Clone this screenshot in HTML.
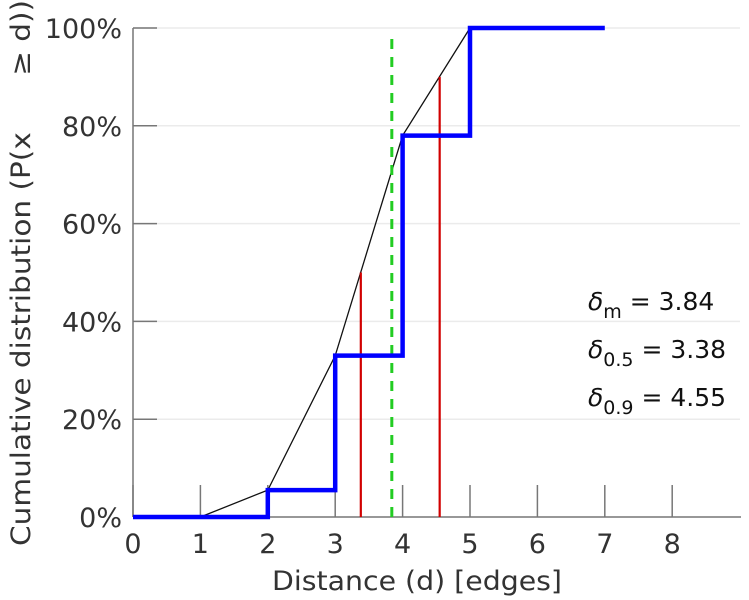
<!DOCTYPE html>
<html><head><meta charset="utf-8"><style>
body{margin:0;background:#fff}
svg{display:block;font-family:"DejaVu Sans","Liberation Sans",sans-serif}
</style></head><body>
<svg id="chart" width="749" height="600">
<g id="grid"></g>
<g id="axes"></g>
<g id="series"></g>
<text x="272" y="590" font-size="27" fill="#333" textLength="290" lengthAdjust="spacingAndGlyphs">Distance (d) [edges]</text>
<text transform="translate(30,546) rotate(-90)" font-size="27" fill="#333" textLength="546" lengthAdjust="spacingAndGlyphs" xml:space="preserve">Cumulative distribution (P(x      ≥ d))</text>
<g font-size="25" fill="#111">
<text x="588" y="310"><tspan font-style="italic">δ</tspan><tspan font-size="19" dy="8">m</tspan><tspan dy="-8"> = 3.84</tspan></text>
<text x="588" y="358"><tspan font-style="italic">δ</tspan><tspan font-size="19" dy="8">0.5</tspan><tspan dy="-8"> = 3.38</tspan></text>
<text x="588" y="406"><tspan font-style="italic">δ</tspan><tspan font-size="19" dy="8">0.9</tspan><tspan dy="-8"> = 4.55</tspan></text>
</g>
</svg>
<script>
const xTicks=[0,1,2,3,4,5,6,7,8];
const yTicks=[0,20,40,60,80,100];
const stepX=[0,1,2,3,4,5,6,7];
const stepY=[0,0,5.5,33,78,100,100,100];
const lineX=[1,2,3,4,5];
const lineY=[0,5.5,33,78,100];
const redX=[3.38,4.55];
const redY=[50,90];
const meanX=3.84;
const sx=v=>133+v*67.4;
const sy=v=>517-v*4.89;
const NS='http://www.w3.org/2000/svg';
function mk(parent,tag,attrs){const e=document.createElementNS(NS,tag);for(const k in attrs)e.setAttribute(k,attrs[k]);document.getElementById(parent).appendChild(e);return e;}
yTicks.forEach(t=>{
 if(t>0){const g=mk('grid','line',{x1:133,x2:740,y1:sy(t),y2:sy(t),stroke:'#ebebeb','stroke-width':1.5});
 
 }
 const tk=mk('axes','line',{x1:133,x2:157,y1:sy(t),y2:sy(t),stroke:'#777','stroke-width':1.5});
 
 
 const l=mk('axes','text',{x:122,y:sy(t)+10,'text-anchor':'end','font-size':27,fill:'#333'});l.textContent=t+'%';
 
 
});
xTicks.forEach(t=>{
 const tk=mk('axes','line',{x1:sx(t),x2:sx(t),y1:485,y2:517,stroke:'#777','stroke-width':1.5});
 
 
 const l=mk('axes','text',{x:sx(t),y:553,'text-anchor':'middle','font-size':27,fill:'#333'});l.textContent=t;
 
 
});
let a=mk('axes','line',{x1:133,x2:133,y1:sy(100),y2:517,stroke:'#777','stroke-width':1.5});


a=mk('axes','line',{x1:133,x2:741,y1:517,y2:517,stroke:'#777','stroke-width':1.5});


let lp=mk('series','polyline',{points:lineX.map((x,i)=>sx(x)+','+sy(lineY[i])).join(' '),fill:'none',stroke:'#111','stroke-width':1.3});


redX.forEach((x,i)=>{const r=mk('series','line',{x1:sx(x),x2:sx(x),y1:517,y2:sy(redY[i]),stroke:'#d10000','stroke-width':2.2});
 
 });
const g=mk('series','line',{x1:sx(meanX),x2:sx(meanX),y1:517,y2:33,stroke:'#22cc22','stroke-width':3,'stroke-dasharray':'10,8'});


let pts=[];
for(let i=0;i<stepX.length;i++){pts.push(sx(stepX[i])+','+sy(stepY[i]));if(i<stepX.length-1)pts.push(sx(stepX[i+1])+','+sy(stepY[i]));}
const b=mk('series','polyline',{points:pts.join(' '),fill:'none',stroke:'#0000ff','stroke-width':4.5,'stroke-linejoin':'miter'});


</script>
</body></html>
